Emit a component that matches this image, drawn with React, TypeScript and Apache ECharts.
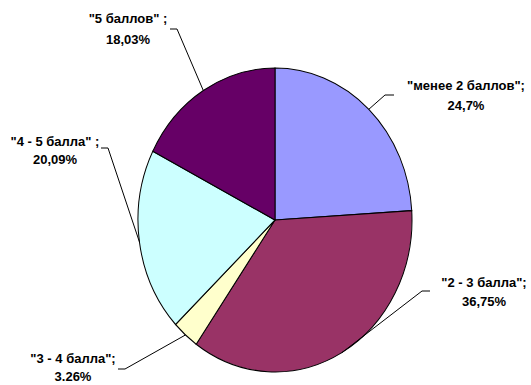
import React, { useEffect, useRef } from "react";
import * as echarts from "echarts";

// Score groups, clockwise from 12 o'clock
const categories = ['"менее 2 баллов";', '"2 - 3 балла";', '"3 - 4 балла";', '"4 - 5 балла" ;', '"5 баллов" ;'];
const values = [24.7, 36.75, 3.26, 20.09, 18.03];
const decimalMarks = [",", ",", ".", ",", ","];
const colors = ["#9999FF", "#993366", "#FFFFCC", "#CCFFFF", "#660066"];

// Pie geometry: slightly taller than wide
const CX = 275;
const CY = 220;
const RX = 137;
const RY = 152;

// Label block centres, line spacing and leader-line elbows
const labelLayout = [
  { x: 466, y: 95, lh: 20, elbow: [385, 95], tip: [394, 95] },
  { x: 484, y: 292, lh: 19, elbow: [422, 291], tip: [430, 291] },
  { x: 73, y: 367, lh: 18, elbow: [125, 369], tip: [118, 369] },
  { x: 55, y: 150, lh: 18, elbow: [108, 148], tip: [101, 148] },
  { x: 128, y: 29, lh: 21, elbow: [177, 29], tip: [170, 29] },
];

const formatValue = (v: number, i: number) => String(v).replace(".", decimalMarks[i]) + "%";

export default function App() {
  const ref = useRef<HTMLDivElement>(null);

  useEffect(() => {
    document.body.style.margin = "0";
    if (!ref.current) return;
    const chart = echarts.init(ref.current, null, { renderer: "svg" });
    const total = values.reduce((a, b) => a + b, 0);
    const cumulative = values.map((_, i) => values.slice(0, i).reduce((a, b) => a + b, 0));

    chart.setOption({
      animation: false,
      backgroundColor: "#ffffff",
      series: [
        {
          type: "custom",
          coordinateSystem: "none",
          data: values.map((v, i) => [v, i]),
          renderItem: (params: any, api: any) => {
            const i = params.dataIndex;
            const v = api.value(0);
            const a0 = -Math.PI / 2 + (cumulative[i] / total) * Math.PI * 2;
            const a1 = a0 + (v / total) * Math.PI * 2;
            const mid = (a0 + a1) / 2;
            const edge = [CX + RX * Math.cos(mid), CY + RY * Math.sin(mid)];
            const lay = labelLayout[i];
            return {
              type: "group",
              children: [
                {
                  type: "sector",
                  x: CX,
                  y: CY,
                  scaleY: RY / RX,
                  shape: { cx: 0, cy: 0, r: RX, r0: 0, startAngle: a0, endAngle: a1, clockwise: true },
                  style: { fill: colors[i], stroke: "#000", lineWidth: 1, strokeNoScale: true },
                },
                {
                  type: "polyline",
                  shape: { points: [edge, lay.elbow, lay.tip] },
                  style: { stroke: "#000", lineWidth: 1, fill: "none" },
                  z2: 5,
                },
                {
                  type: "text",
                  z2: 10,
                  style: {
                    text: categories[i] + "\n" + formatValue(v, i),
                    x: lay.x,
                    y: lay.y,
                    align: "center",
                    verticalAlign: "middle",
                    fontFamily: '"Liberation Sans", Arial, sans-serif',
                    fontWeight: "bold",
                    fontSize: 13,
                    lineHeight: lay.lh,
                    fill: "#000",
                  },
                },
              ],
            };
          },
        },
      ],
    });

    return () => chart.dispose();
  }, []);

  return <div ref={ref} style={{ width: 531, height: 385 }} />;
}
